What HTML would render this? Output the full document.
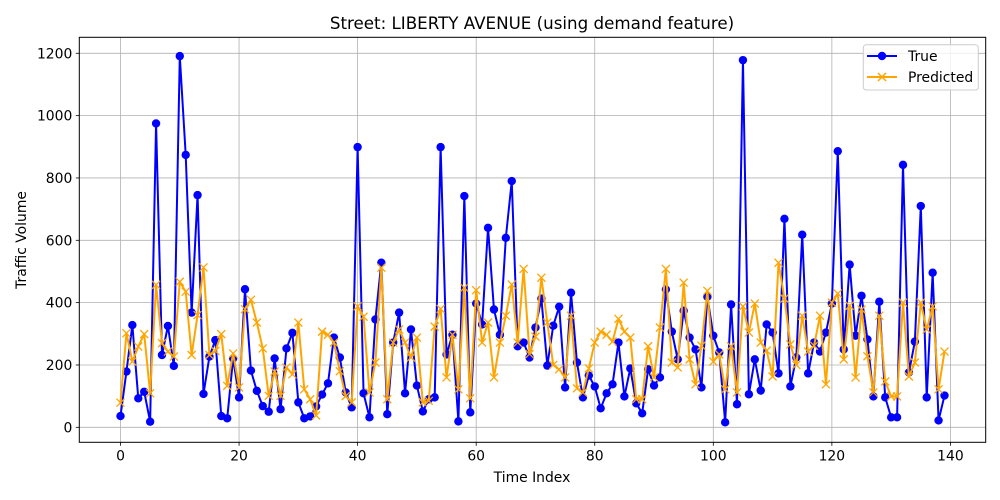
<!DOCTYPE html>
<html><head><meta charset="utf-8"><style>
body{margin:0;background:#fff;}
svg{display:block;font-family:"DejaVu Sans","Liberation Sans",sans-serif;}
</style></head>
<body>
<svg id="chart" width="1000" height="500" viewBox="0 0 1000 500">
<rect width="1000" height="500" fill="#fff"/>
<text x="532" y="29" font-size="16.7" text-anchor="middle">Street: LIBERTY AVENUE (using demand feature)</text>
<g id="grid"></g>
<g id="series"></g>
<rect x="79.3" y="37.3" width="906.4" height="405" fill="none" stroke="#000" stroke-width="1"/>
<g id="ticks" font-size="13.9"></g>
<text x="532" y="482" font-size="13.9" text-anchor="middle">Time Index</text>
<text transform="translate(26,240) rotate(-90)" font-size="13.9" text-anchor="middle">Traffic Volume</text>
<g>
<rect x="863.3" y="44.7" width="115" height="45.3" rx="3" fill="#fff" fill-opacity="0.8" stroke="#ccc"/>
<line x1="867" y1="56" x2="897" y2="56" stroke="blue" stroke-width="2"/>
<circle cx="882" cy="56" r="4.2" fill="blue"/>
<text x="908" y="61" font-size="13.9">True</text>
<line x1="867" y1="77" x2="897" y2="77" stroke="orange" stroke-width="2"/>
<path d="M878,73 L886,81 M878,81 L886,73" stroke="orange" stroke-width="1.5"/>
<text x="908" y="82" font-size="13.9">Predicted</text>
</g>
</svg>
<script>
const trueValues=[36,179,328,93,114,18,975,232,325,197,1191,874,368,745,107,227,280,36,29,221,96,443,182,117,68,50,221,58,253,303,
80,29,35,67,105,141,288,224,112,64,899,109,32,346,528,42,272,368,109,314,134,51,90,96,899,234,297,19,742,48,
397,330,640,378,297,608,790,260,272,224,320,413,198,326,387,128,432,208,96,166,131,61,109,138,272,99,189,77,45,186,
134,160,442,307,218,374,288,250,128,419,294,240,16,394,74,1178,106,218,118,330,304,173,669,131,224,618,173,272,243,304,
397,886,250,522,294,422,282,99,403,96,32,32,842,176,275,710,96,496,22,102];
const predValues=[79,302,211,259,299,109,457,270,243,227,467,435,232,360,513,232,245,299,133,237,128,379,409,336,253,101,179,101,192,170,
336,122,90,38,307,297,272,180,100,80,388,355,112,208,512,90,272,314,272,224,288,80,85,323,380,160,297,122,448,93,
440,272,336,160,272,358,458,272,508,235,291,480,336,200,186,160,358,125,112,189,272,307,297,275,348,307,288,90,90,260,
160,320,508,208,192,464,218,138,262,438,211,234,122,260,112,388,304,397,272,246,163,528,413,266,200,358,243,262,358,138,
400,429,218,390,160,378,228,112,358,147,99,99,400,163,208,400,314,388,122,243];
const xTicks=[0,20,40,60,80,100,120,140];
const yTicks=[0,200,400,600,800,1000,1200];

const NS="http://www.w3.org/2000/svg";
const L=79.3,R=985.7,T=37.3,B=442.3;
const xMin=-6.95,xMax=145.95,yMin=-48.1,yMax=1251.3;
function sx(v){return L+(v-xMin)*(R-L)/(xMax-xMin);}
function sy(v){return B-(v-yMin)*(B-T)/(yMax-yMin);}
function mk(tag,attrs,parent){const e=document.createElementNS(NS,tag);for(const k in attrs)e.setAttribute(k,attrs[k]);parent.appendChild(e);return e;}
const grid=document.getElementById('grid'),ticks=document.getElementById('ticks'),series=document.getElementById('series');
xTicks.forEach(t=>{
  const x=sx(t);
  const g=mk('line',{x1:x,y1:T,x2:x,y2:B,stroke:'#b0b0b0','stroke-width':0.8},grid);
  
  
  mk('line',{x1:x,y1:B,x2:x,y2:B+3.5,stroke:'#000','stroke-width':0.8},ticks);
  const tx=mk('text',{x:x,y:B+18,'text-anchor':'middle'},ticks);
  tx.textContent=t;
  
  
});
yTicks.forEach(t=>{
  const y=sy(t);
  const g=mk('line',{x1:L,y1:y,x2:R,y2:y,stroke:'#b0b0b0','stroke-width':0.8},grid);
  
  
  mk('line',{x1:L-3.5,y1:y,x2:L,y2:y,stroke:'#000','stroke-width':0.8},ticks);
  const tx=mk('text',{x:L-7,y:y+5,'text-anchor':'end'},ticks);
  tx.textContent=t;
  
  
});
function pts(arr){return arr.map((v,i)=>sx(i).toFixed(2)+','+sy(v).toFixed(2)).join(' ');}
const lt=mk('polyline',{points:pts(trueValues),fill:'none',stroke:'blue','stroke-width':2,'stroke-linejoin':'round'},series);


trueValues.forEach((v,i)=>{
  const c=mk('circle',{cx:sx(i),cy:sy(v),r:4.2,fill:'blue'},series);
  
  
});
const lp=mk('polyline',{points:pts(predValues),fill:'none',stroke:'orange','stroke-width':2,'stroke-linejoin':'round'},series);


predValues.forEach((v,i)=>{
  const x=sx(i),y=sy(v),d=4;
  const p=mk('path',{d:`M${x-d},${y-d}L${x+d},${y+d}M${x-d},${y+d}L${x+d},${y-d}`,stroke:'orange','stroke-width':1.3},series);
  
  
});
</script>
</body></html>
